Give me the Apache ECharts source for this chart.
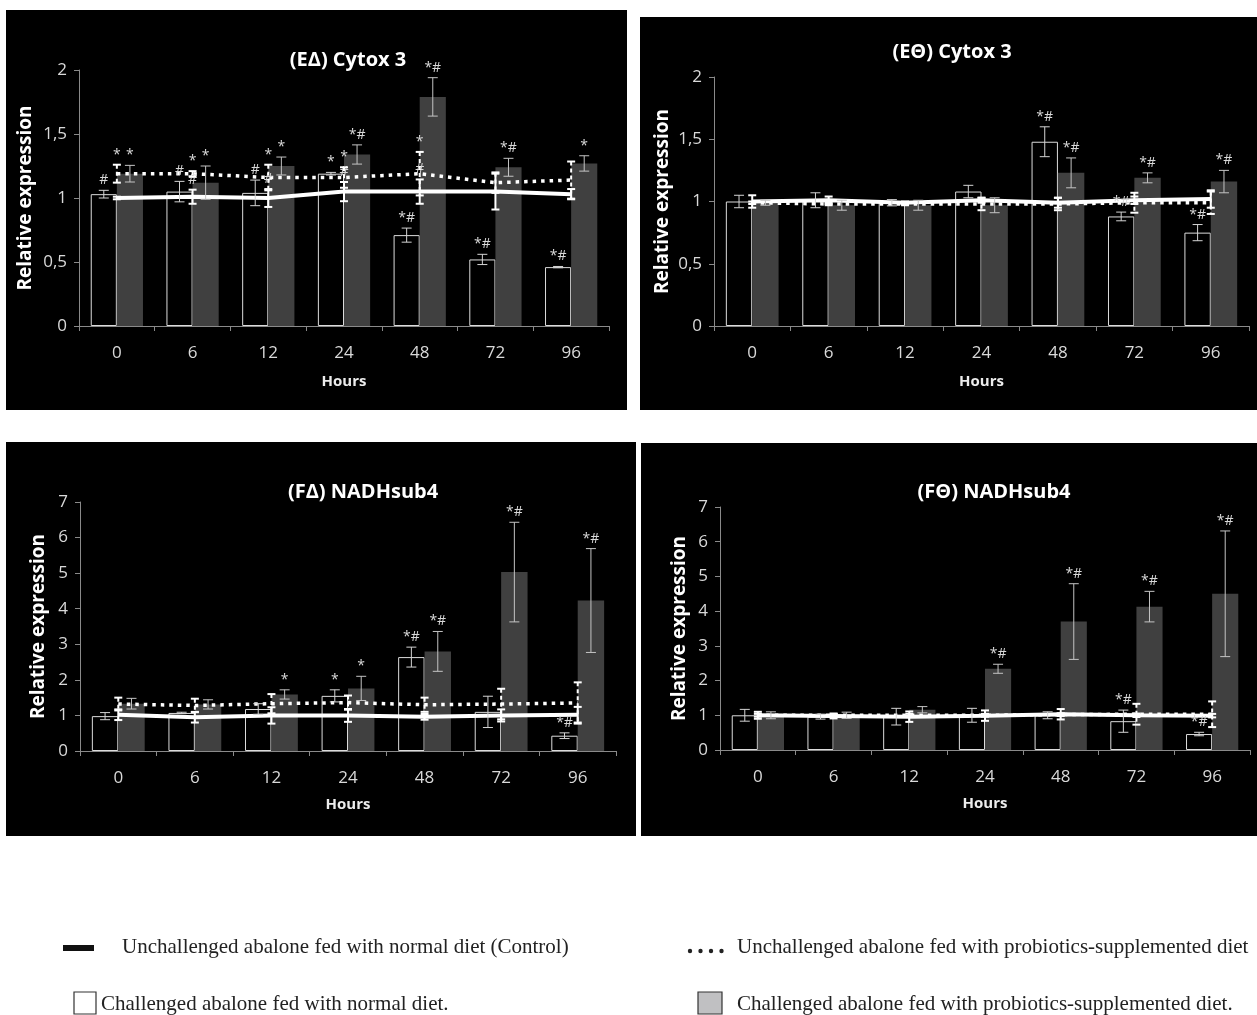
<!DOCTYPE html>
<html><head><meta charset="utf-8">
<script src="https://cdn.jsdelivr.net/npm/echarts@6/dist/echarts.min.js"></script>
<style>html,body{margin:0;padding:0;background:#fff}#c{width:1257px;height:1015px}</style>
</head><body><div id="c"></div>
<script>
// ---------------- DATA ----------------
const categories = ['0', '6', '12', '24', '48', '72', '96'];
const xAxisTitle = 'Hours';
const yAxisTitle = 'Relative expression';

// y-axis ticks
const cytoxTicks = [0, 0.5, 1, 1.5, 2];
const nadhTicks = [0, 1, 2, 3, 4, 5, 6, 7];

// (EΔ) Cytox 3
const eDeltaTitle = '(EΔ) Cytox 3';
const eDeltaHollow = [1.03, 1.05, 1.04, 1.19, 0.71, 0.52, 0.46];
const eDeltaHollowSd = [0.03, 0.08, 0.10, 0.01, 0.055, 0.04, 0.005];
const eDeltaGray = [1.19, 1.12, 1.25, 1.34, 1.79, 1.24, 1.27];
const eDeltaGraySd = [0.065, 0.13, 0.07, 0.075, 0.15, 0.07, 0.06];
const eDeltaControl = [1.00, 1.01, 1.00, 1.05, 1.05, 1.05, 1.03];
const eDeltaControlSd = [0.01, 0.055, 0.07, 0.075, 0.095, 0.14, 0.04];
const eDeltaProbio = [1.19, 1.19, 1.16, 1.16, 1.19, 1.12, 1.14];
const eDeltaProbioSd = [0.07, 0.02, 0.10, 0.08, 0.17, 0.08, 0.145];
const eDeltaHollowNote = ['#', '#', '#', '*', '*#', '*#', '*#'];
const eDeltaGrayNote = ['*', '*', '*', '*#', '*#', '*#', '*'];
const eDeltaControlNote = ['', '#', '#', '#', '#', '', ''];
const eDeltaProbioNote = ['*', '*', '*', '*', '*', '', ''];

// (EΘ) Cytox 3
const eThetaTitle = '(EΘ) Cytox 3';
const eThetaHollow = [1.00, 1.01, 0.99, 1.08, 1.48, 0.88, 0.75];
const eThetaHollowSd = [0.05, 0.06, 0.025, 0.05, 0.12, 0.035, 0.065];
const eThetaGray = [0.99, 0.97, 0.97, 0.97, 1.23, 1.19, 1.16];
const eThetaGraySd = [0.02, 0.04, 0.04, 0.06, 0.12, 0.04, 0.09];
const eThetaControl = [1.00, 1.01, 0.99, 1.01, 0.99, 1.01, 1.02];
const eThetaControlSd = [0.05, 0.03, 0.01, 0.02, 0.04, 0.03, 0.07];
const eThetaProbio = [0.99, 0.98, 0.98, 0.98, 0.98, 0.99, 0.99];
const eThetaProbioSd = [0.01, 0.01, 0.01, 0.05, 0.05, 0.08, 0.09];
const eThetaHollowNote = ['', '', '', '', '*#', '*#', '*#'];
const eThetaGrayNote = ['', '', '', '', '*#', '*#', '*#'];
const eThetaControlNote = ['', '', '', '', '', '', ''];
const eThetaProbioNote = ['', '', '', '', '', '', ''];

// (FΔ) NADHsub4
const fDeltaTitle = '(FΔ) NADHsub4';
const fDeltaHollow = [0.98, 1.07, 1.18, 1.55, 2.64, 1.10, 0.43];
const fDeltaHollowSd = [0.10, 0.02, 0.15, 0.17, 0.28, 0.44, 0.08];
const fDeltaGray = [1.33, 1.31, 1.59, 1.76, 2.80, 5.03, 4.23];
const fDeltaGraySd = [0.15, 0.13, 0.13, 0.34, 0.56, 1.40, 1.46];
const fDeltaControl = [1.02, 0.95, 1.00, 1.00, 0.96, 1.00, 1.02];
const fDeltaControlSd = [0.15, 0.15, 0.23, 0.18, 0.08, 0.17, 0.22];
const fDeltaProbio = [1.32, 1.28, 1.33, 1.36, 1.30, 1.32, 1.35];
const fDeltaProbioSd = [0.18, 0.19, 0.27, 0.20, 0.20, 0.43, 0.58];
const fDeltaHollowNote = ['', '', '', '*', '*#', '', '*#'];
const fDeltaGrayNote = ['', '', '*', '*', '*#', '*#', '*#'];
const fDeltaControlNote = ['', '', '', '', '', '', ''];
const fDeltaProbioNote = ['', '', '', '', '', '', ''];

// (FΘ) NADHsub4
const fThetaTitle = '(FΘ) NADHsub4';
const fThetaHollow = [1.00, 0.96, 0.96, 1.00, 1.00, 0.83, 0.46];
const fThetaHollowSd = [0.17, 0.07, 0.24, 0.20, 0.10, 0.32, 0.05];
const fThetaGray = [1.00, 1.00, 1.16, 2.34, 3.70, 4.13, 4.50];
const fThetaGraySd = [0.10, 0.09, 0.09, 0.13, 1.09, 0.44, 1.81];
const fThetaControl = [1.00, 0.98, 0.96, 0.99, 1.03, 1.00, 0.99];
const fThetaControlSd = [0.10, 0.07, 0.15, 0.15, 0.15, 0.05, 0.05];
const fThetaProbio = [1.00, 1.00, 1.00, 1.00, 1.02, 1.03, 1.03];
const fThetaProbioSd = [0.04, 0.04, 0.04, 0.04, 0.04, 0.30, 0.37];
const fThetaHollowNote = ['', '', '', '', '', '*#', '*#'];
const fThetaGrayNote = ['', '', '', '*#', '*#', '*#', '*#'];
const fThetaControlNote = ['', '', '', '', '', '', ''];
const fThetaProbioNote = ['', '', '', '', '', '', ''];

// legend texts
const legendControl = 'Unchallenged abalone fed with normal diet (Control)';
const legendProbio = 'Unchallenged abalone fed with probiotics-supplemented diet';
const legendHollow = 'Challenged abalone fed with normal diet.';
const legendGray = 'Challenged abalone fed with probiotics-supplemented diet.';

// ---------------- LAYOUT / STYLE ----------------
const CAT_GAP = 0.31;
const FONT = '"Open Sans", "DejaVu Sans", sans-serif';
const LABEL_COLOR = '#d9d9d9';
const AXIS_COLOR = '#8a8a8a';

const panels = [
  { title: eDeltaTitle, ticks: cytoxTicks, hollow: eDeltaHollow, hollowSd: eDeltaHollowSd, gray: eDeltaGray, graySd: eDeltaGraySd,
    control: eDeltaControl, controlSd: eDeltaControlSd, probio: eDeltaProbio, probioSd: eDeltaProbioSd,
    notes: [eDeltaHollowNote, eDeltaGrayNote, eDeltaControlNote, eDeltaProbioNote],
    bg: [6, 10, 621, 400], grid: { left: 79, top: 70, width: 530, height: 256 }, titlePos: [348, 60], yGap: 44, xGap: 48 },
  { title: eThetaTitle, ticks: cytoxTicks, hollow: eThetaHollow, hollowSd: eThetaHollowSd, gray: eThetaGray, graySd: eThetaGraySd,
    control: eThetaControl, controlSd: eThetaControlSd, probio: eThetaProbio, probioSd: eThetaProbioSd,
    notes: [eThetaHollowNote, eThetaGrayNote, eThetaControlNote, eThetaProbioNote],
    bg: [640, 17, 617, 393], grid: { left: 714, top: 77, width: 535, height: 249 }, titlePos: [952, 52], yGap: 42, xGap: 48 },
  { title: fDeltaTitle, ticks: nadhTicks, hollow: fDeltaHollow, hollowSd: fDeltaHollowSd, gray: fDeltaGray, graySd: fDeltaGraySd,
    control: fDeltaControl, controlSd: fDeltaControlSd, probio: fDeltaProbio, probioSd: fDeltaProbioSd,
    notes: [fDeltaHollowNote, fDeltaGrayNote, fDeltaControlNote, fDeltaProbioNote],
    bg: [6, 442, 630, 394], grid: { left: 80, top: 502, width: 536, height: 249 }, titlePos: [363, 492], yGap: 32, xGap: 46 },
  { title: fThetaTitle, ticks: nadhTicks, hollow: fThetaHollow, hollowSd: fThetaHollowSd, gray: fThetaGray, graySd: fThetaGraySd,
    control: fThetaControl, controlSd: fThetaControlSd, probio: fThetaProbio, probioSd: fThetaProbioSd,
    notes: [fThetaHollowNote, fThetaGrayNote, fThetaControlNote, fThetaProbioNote],
    bg: [641, 443, 616, 393], grid: { left: 720, top: 507, width: 530, height: 243 }, titlePos: [994, 492], yGap: 31, xGap: 46 }
];

const errStyles = {
  hollow: { stroke: '#d4d4d4', lineWidth: 1, cap: 5, off: -1 },
  gray: { stroke: '#c4c4c4', lineWidth: 1, cap: 5, off: 1 },
  control: { stroke: '#ffffff', lineWidth: 2, cap: 4, off: 0 },
  probio: { stroke: '#ffffff', lineWidth: 2, cap: 4, off: 0, dash: [4, 3] }
};

function makeErrSeries(kind, values, sds, notes, gi) {
  const st = errStyles[kind];
  return {
    type: 'custom', xAxisIndex: gi, yAxisIndex: gi, z: 5, silent: true,
    data: values.map((v, i) => [i, v]),
    encode: { x: 0, y: 1 },
    renderItem: function (params, api) {
      const i = api.value(0), v = api.value(1);
      const sd = sds[params.dataIndex];
      const band = api.size([1, 0])[0];
      const barW = band * (1 - CAT_GAP) / 2;
      const top = api.coord([i, v + sd]);
      const bot = api.coord([i, v - sd]);
      const x = top[0] + st.off * barW / 2;
      const ls = { stroke: st.stroke, lineWidth: st.lineWidth, lineDash: st.dash || null };
      const children = [
        { type: 'line', shape: { x1: x, y1: top[1], x2: x, y2: bot[1] }, style: ls },
        { type: 'line', shape: { x1: x - st.cap, y1: top[1], x2: x + st.cap, y2: top[1] }, style: { stroke: st.stroke, lineWidth: st.lineWidth } },
        { type: 'line', shape: { x1: x - st.cap, y1: bot[1], x2: x + st.cap, y2: bot[1] }, style: { stroke: st.stroke, lineWidth: st.lineWidth } }
      ];
      const note = notes[params.dataIndex];
      if (note) {
        children.push({ type: 'text', x: x, y: top[1] - 3,
          style: { text: note, fill: LABEL_COLOR, font: '14px ' + FONT, align: 'center', verticalAlign: 'bottom' } });
      }
      return { type: 'group', children: children };
    }
  };
}

const grids = [], xAxes = [], yAxes = [], series = [], graphics = [];

panels.forEach((p, gi) => {
  graphics.push({ type: 'rect', z: -10, shape: { x: p.bg[0], y: p.bg[1], width: p.bg[2], height: p.bg[3] }, style: { fill: '#000' } });
  graphics.push({ type: 'text', x: p.titlePos[0], y: p.titlePos[1], z: 10,
    style: { text: p.title, fill: '#ffffff', font: 'bold 20px ' + FONT, align: 'center', verticalAlign: 'middle' } });
  grids.push(Object.assign({ containLabel: false }, p.grid));
  xAxes.push({
    type: 'category', gridIndex: gi, data: categories,
    name: xAxisTitle, nameLocation: 'middle', nameGap: p.xGap,
    nameTextStyle: { color: '#ececec', fontFamily: FONT, fontWeight: 'bold', fontSize: 15 },
    axisLine: { show: true, lineStyle: { color: AXIS_COLOR, width: 1 } },
    axisTick: { show: true, length: 5, lineStyle: { color: AXIS_COLOR } },
    axisLabel: { color: LABEL_COLOR, fontFamily: FONT, fontSize: 17, margin: 19 },
    splitLine: { show: false }
  });
  const tk = p.ticks;
  yAxes.push({
    type: 'value', gridIndex: gi, min: tk[0], max: tk[tk.length - 1], interval: tk[1] - tk[0],
    name: yAxisTitle, nameLocation: 'middle', nameGap: p.yGap, nameRotate: 90,
    nameTextStyle: { color: '#ffffff', fontFamily: FONT, fontWeight: 'bold', fontSize: 19 },
    axisLine: { show: true, lineStyle: { color: AXIS_COLOR, width: 1 } },
    axisTick: { show: true, length: 5, lineStyle: { color: AXIS_COLOR } },
    axisLabel: { color: LABEL_COLOR, fontFamily: FONT, fontSize: 17, margin: 12,
      formatter: v => String(v).replace('.', ',') },
    splitLine: { show: false }
  });
  series.push({
    type: 'bar', name: legendHollow, xAxisIndex: gi, yAxisIndex: gi, data: p.hollow, z: 2,
    barCategoryGap: (CAT_GAP * 100) + '%', barGap: '0%',
    itemStyle: { color: '#000000', borderColor: '#dcdcdc', borderWidth: 1 }
  });
  series.push({
    type: 'bar', name: legendGray, xAxisIndex: gi, yAxisIndex: gi, data: p.gray, z: 2,
    barCategoryGap: (CAT_GAP * 100) + '%', barGap: '0%',
    itemStyle: { color: '#404040' }
  });
  series.push({
    type: 'line', name: legendProbio, xAxisIndex: gi, yAxisIndex: gi, data: p.probio, z: 3,
    symbol: 'none', lineStyle: { color: '#ffffff', width: 3.5, type: [3.5, 5] }
  });
  series.push({
    type: 'line', name: legendControl, xAxisIndex: gi, yAxisIndex: gi, data: p.control, z: 4,
    symbol: 'none', lineStyle: { color: '#ffffff', width: 4 }
  });
  series.push(makeErrSeries('hollow', p.hollow, p.hollowSd, p.notes[0], gi));
  series.push(makeErrSeries('gray', p.gray, p.graySd, p.notes[1], gi));
  series.push(makeErrSeries('control', p.control, p.controlSd, p.notes[2], gi));
  series.push(makeErrSeries('probio', p.probio, p.probioSd, p.notes[3], gi));
});

// legend (drawn on white area below the panels)
const SERIF = '"Liberation Serif", "Times New Roman", serif';
const LEG_FONT = '21px ' + SERIF;
graphics.push({ type: 'rect', shape: { x: 63, y: 945, width: 31, height: 6 }, style: { fill: '#111' } });
graphics.push({ type: 'text', x: 122, y: 947, style: { text: legendControl, fill: '#222', font: LEG_FONT, verticalAlign: 'middle' } });
for (let k = 0; k < 4; k++) {
  graphics.push({ type: 'circle', shape: { cx: 690 + k * 10.5, cy: 951, r: 2.2 }, style: { fill: '#222' } });
}
graphics.push({ type: 'text', x: 737, y: 947, style: { text: legendProbio, fill: '#222', font: LEG_FONT, verticalAlign: 'middle' } });
graphics.push({ type: 'rect', shape: { x: 74, y: 992, width: 22, height: 22 }, style: { fill: '#fff', stroke: '#333', lineWidth: 1.2 } });
graphics.push({ type: 'text', x: 101, y: 1004, style: { text: legendHollow, fill: '#222', font: LEG_FONT, verticalAlign: 'middle' } });
graphics.push({ type: 'rect', shape: { x: 698, y: 992, width: 24, height: 22 }, style: { fill: '#c0c0c2', stroke: '#333', lineWidth: 1.2 } });
graphics.push({ type: 'text', x: 737, y: 1004, style: { text: legendGray, fill: '#222', font: LEG_FONT, verticalAlign: 'middle' } });

const chart = echarts.init(document.getElementById('c'));
chart.setOption({
  backgroundColor: '#ffffff',
  animation: false,
  grid: grids,
  xAxis: xAxes,
  yAxis: yAxes,
  series: series,
  graphic: { elements: graphics }
});
</script>
</body></html>
